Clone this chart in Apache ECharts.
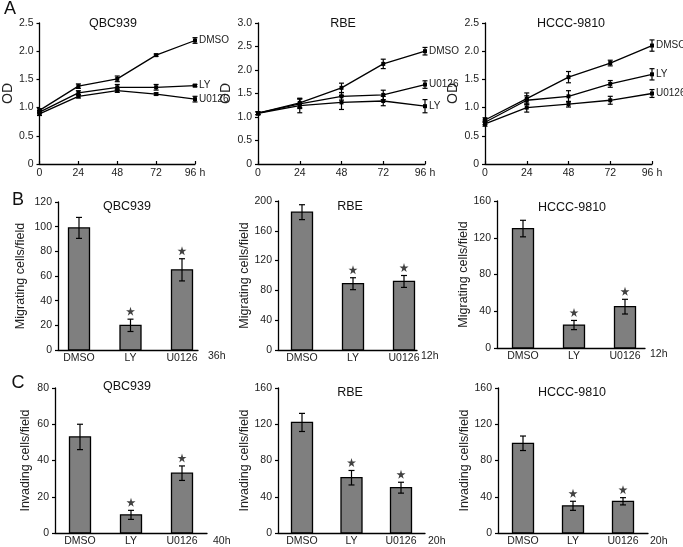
<!DOCTYPE html>
<html><head><meta charset="utf-8">
<script src="https://cdn.jsdelivr.net/npm/echarts@6/dist/echarts.min.js"></script>
<style>html,body{margin:0;padding:0;background:#fff}#c{width:683px;height:547px}</style>
</head><body><div id="c"></div>
<script>
// ---------- data ----------
const hours = [0, 24, 48, 72, 96];
const treatments = ['DMSO', 'LY', 'U0126'];

// Panel A: OD growth curves
const qbcDMSO = [0.95, 1.38, 1.51, 1.93, 2.19];
const qbcDMSOErr = [0.03, 0.04, 0.05, 0.02, 0.05];
const qbcLY = [0.92, 1.26, 1.36, 1.36, 1.39];
const qbcLYErr = [0.03, 0.04, 0.05, 0.05, 0.02];
const qbcU0126 = [0.89, 1.20, 1.30, 1.24, 1.15];
const qbcU0126Err = [0.03, 0.03, 0.03, 0.02, 0.05];

const rbeDMSO = [1.08, 1.30, 1.62, 2.13, 2.40];
const rbeDMSOErr = [0.03, 0.10, 0.10, 0.10, 0.08];
const rbeU0126 = [1.08, 1.28, 1.44, 1.47, 1.69];
const rbeU0126Err = [0.03, 0.10, 0.08, 0.10, 0.08];
const rbeLY = [1.08, 1.24, 1.31, 1.34, 1.23];
const rbeLYErr = [0.03, 0.15, 0.15, 0.10, 0.14];

const hcccDMSO = [0.78, 1.16, 1.54, 1.79, 2.10];
const hcccDMSOErr = [0.04, 0.10, 0.10, 0.05, 0.10];
const hcccLY = [0.74, 1.13, 1.20, 1.42, 1.59];
const hcccLYErr = [0.04, 0.08, 0.10, 0.06, 0.10];
const hcccU0126 = [0.71, 1.00, 1.06, 1.13, 1.25];
const hcccU0126Err = [0.04, 0.08, 0.05, 0.07, 0.07];

// Panel B: migrating cells/field
const migQBC = [99, 20, 65];   const migQBCErr = [8.5, 5, 9];
const migRBE = [185, 89, 92];  const migRBEErr = [10, 8, 8];
const migHCCC = [130, 25, 45]; const migHCCCErr = [9, 5, 8];
// Panel C: invading cells/field
const invQBC = [53, 10, 33];   const invQBCErr = [7, 2.5, 4];
const invRBE = [122, 61, 50];  const invRBEErr = [10, 8, 6];
const invHCCC = [99, 30, 35];  const invHCCCErr = [8, 5, 4];
const significant = [false, true, true];

const lineTickLabels = ['0', '24', '48', '72', '96 h'];

// ---------- chart ----------
const FONT = 'Liberation Sans, Arial, sans-serif';
const chart = echarts.init(document.getElementById('c'));
const grids = [], xAxes = [], yAxes = [], series = [], graphics = [];

function yAxisBase(min, max, interval, name, gap, fmt) {
  return {
    type: 'value', min, max, interval,
    name, nameLocation: 'middle', nameGap: gap,
    nameTextStyle: { fontFamily: FONT, color: '#222', fontSize: name === 'OD' ? 14 : 12.5 },
    axisLine: { show: true, lineStyle: { color: '#000', width: 1.3 } },
    axisTick: { show: true, inside: false, length: 3, lineStyle: { color: '#000', width: 1.2 } },
    axisLabel: { fontFamily: FONT, fontSize: 10.5, color: '#222', margin: 6, formatter: fmt },
    splitLine: { show: false }
  };
}

function errRender(cap) {
  return function (params, api) {
    const x = api.value(0), lo = api.value(1), hi = api.value(2);
    const a = api.coord([x, lo]), b = api.coord([x, hi]);
    const st = { stroke: '#000', lineWidth: 1.2 };
    return { type: 'group', children: [
      { type: 'line', shape: { x1: a[0], y1: a[1], x2: b[0], y2: b[1] }, style: st },
      { type: 'line', shape: { x1: a[0] - cap, y1: a[1], x2: a[0] + cap, y2: a[1] }, style: st },
      { type: 'line', shape: { x1: b[0] - cap, y1: b[1], x2: b[0] + cap, y2: b[1] }, style: st }
    ]};
  };
}

function linePanel(idx, cfg) {
  grids.push({ left: cfg.left, top: 23, width: cfg.width, height: 141 });
  xAxes.push({
    gridIndex: idx, type: 'value', min: 0, max: 96, interval: 24,
    axisLine: { show: true, onZero: false, lineStyle: { color: '#000', width: 1.3 } },
    axisTick: { show: true, inside: true, length: 3, lineStyle: { color: '#000', width: 1.2 } },
    axisLabel: { fontFamily: FONT, fontSize: 10.5, color: '#222', margin: 4,
      formatter: v => lineTickLabels[hours.indexOf(v)] },
    splitLine: { show: false }
  });
  yAxes.push(Object.assign(yAxisBase(0, cfg.ymax, 0.5, 'OD', cfg.nameGap,
    v => v === 0 ? '0' : v.toFixed(1)), { gridIndex: idx }));
  cfg.lines.forEach(([name, vals, errs]) => {
    series.push({
      type: 'custom', xAxisIndex: idx, yAxisIndex: idx, silent: true, z: 3,
      renderItem: errRender(2.5),
      data: hours.map((h, i) => [h, vals[i] - errs[i], vals[i] + errs[i]])
    });
    series.push({
      type: 'line', name, xAxisIndex: idx, yAxisIndex: idx, z: 4,
      data: hours.map((h, i) => [h, vals[i]]),
      symbol: 'rect', symbolSize: 4, showAllSymbol: true,
      lineStyle: { color: '#000', width: 1.3 }, itemStyle: { color: '#000' },
      endLabel: { show: true, formatter: name, fontFamily: FONT, fontSize: 10, color: '#222', distance: 4 },
      animation: false
    });
  });
  graphics.push({ type: 'text', x: cfg.titleX, y: 24, style: { text: cfg.title, font: '12.5px ' + FONT, fill: '#111', align: 'center', verticalAlign: 'middle' } });
}

const starPath = 'path://M50,0 L61,35 L98,35 L68,57 L79,91 L50,70 L21,91 L32,57 L2,35 L39,35 Z';

function barPanel(idx, cfg) {
  grids.push({ left: cfg.left, top: cfg.top, width: cfg.right - cfg.left, height: cfg.bottom - cfg.top });
  const sp = cfg.spacing;
  xAxes.push({
    gridIndex: idx, type: 'value',
    min: 1 - (cfg.c1 - cfg.left) / sp, max: 3 + (cfg.right - (cfg.c1 + 2 * sp)) / sp,
    axisLine: { show: true, onZero: false, lineStyle: { color: '#000', width: 1.3 } },
    axisTick: { show: false },
    axisLabel: { customValues: [1, 2, 3], fontFamily: FONT, fontSize: 10.5, color: '#222', margin: 3,
      formatter: v => treatments[Math.round(v) - 1] || '' },
    splitLine: { show: false }
  });
  yAxes.push(Object.assign(yAxisBase(0, cfg.ymax, cfg.interval, cfg.yname, cfg.nameGap), { gridIndex: idx }));
  const xs = treatments.map((t, i) => i + 1);
  series.push({
    type: 'custom', xAxisIndex: idx, yAxisIndex: idx, silent: true, z: 2,
    data: xs.map((x, i) => [x, cfg.vals[i]]),
    renderItem: function (params, api) {
      const x = api.value(0), v = api.value(1);
      const p0 = api.coord([x, 0]), p1 = api.coord([x, v]);
      return { type: 'rect', shape: { x: p0[0] - 10.5, y: p1[1], width: 21, height: p0[1] - p1[1] },
        style: { fill: '#7f7f7f', stroke: '#000', lineWidth: 1.3 } };
    }
  });
  series.push({
    type: 'custom', xAxisIndex: idx, yAxisIndex: idx, silent: true, z: 3,
    renderItem: errRender(3),
    data: xs.map((x, i) => [x, cfg.vals[i] - cfg.errs[i], cfg.vals[i] + cfg.errs[i]])
  });
  series.push({
    type: 'scatter', xAxisIndex: idx, yAxisIndex: idx, z: 4,
    symbol: starPath, symbolSize: 9, symbolOffset: [0, -8],
    itemStyle: { color: '#111' },
    data: xs.map((x, i) => [x, cfg.vals[i] + cfg.errs[i]]).filter((d, i) => significant[i])
  });
  graphics.push({ type: 'text', x: cfg.titleX, y: cfg.titleY, style: { text: cfg.title, font: '12.5px ' + FONT, fill: '#111', align: 'center', verticalAlign: 'middle' } });
  graphics.push({ type: 'text', x: cfg.timeX, y: cfg.bottom + 6, style: { text: cfg.time, font: '10.5px ' + FONT, fill: '#222', align: 'left', verticalAlign: 'middle' } });
}

linePanel(0, { left: 29, width: 166, ymax: 2.5, nameGap: 18, title: 'QBC939', titleX: 113,
  lines: [['DMSO', qbcDMSO, qbcDMSOErr], ['LY', qbcLY, qbcLYErr], ['U0126', qbcU0126, qbcU0126Err]] });
linePanel(1, { left: 258, width: 167, ymax: 3.0, nameGap: 23, title: 'RBE', titleX: 343,
  lines: [['DMSO', rbeDMSO, rbeDMSOErr], ['U0126', rbeU0126, rbeU0126Err], ['LY', rbeLY, rbeLYErr]] });
linePanel(2, { left: 485, width: 167, ymax: 2.5, nameGap: 24, title: 'HCCC-9810', titleX: 571,
  lines: [['DMSO', hcccDMSO, hcccDMSOErr], ['LY', hcccLY, hcccLYErr], ['U0126', hcccU0126, hcccU0126Err]] });

const MIG = 'Migrating cells/field', INV = 'Invading cells/field';
barPanel(3, { left: 58, right: 198, top: 202, bottom: 350, c1: 79, spacing: 51.5, ymax: 120, interval: 20,
  yname: MIG, nameGap: 31, vals: migQBC, errs: migQBCErr, title: 'QBC939', titleX: 127, titleY: 207, time: '36h', timeX: 208 });
barPanel(4, { left: 278, right: 417, top: 201, bottom: 350, c1: 302, spacing: 51, ymax: 200, interval: 40,
  yname: MIG, nameGap: 27, vals: migRBE, errs: migRBEErr, title: 'RBE', titleX: 350, titleY: 207, time: '12h', timeX: 421 });
barPanel(5, { left: 497, right: 645, top: 201, bottom: 348, c1: 523, spacing: 51, ymax: 160, interval: 40,
  yname: MIG, nameGap: 25, vals: migHCCC, errs: migHCCCErr, title: 'HCCC-9810', titleX: 572, titleY: 208, time: '12h', timeX: 650 });
barPanel(6, { left: 55, right: 207, top: 388, bottom: 535, c1: 80, spacing: 51, ymax: 80, interval: 20,
  yname: INV, nameGap: 23, vals: invQBC, errs: invQBCErr, title: 'QBC939', titleX: 127, titleY: 387, time: '40h', timeX: 213 });
barPanel(7, { left: 278, right: 425, top: 388, bottom: 535, c1: 302, spacing: 49.5, ymax: 160, interval: 40,
  yname: INV, nameGap: 26, vals: invRBE, errs: invRBEErr, title: 'RBE', titleX: 350, titleY: 393, time: '20h', timeX: 428 });
barPanel(8, { left: 498, right: 648, top: 388, bottom: 535, c1: 523, spacing: 50, ymax: 160, interval: 40,
  yname: INV, nameGap: 25, vals: invHCCC, errs: invHCCCErr, title: 'HCCC-9810', titleX: 572, titleY: 393, time: '20h', timeX: 650 });

[['A', 10, 9], ['B', 18, 200], ['C', 18, 383]].forEach(([t, x, y]) => {
  graphics.push({ type: 'text', x, y, style: { text: t, font: '18px ' + FONT, fill: '#111', align: 'center', verticalAlign: 'middle' } });
});

chart.setOption({
  animation: false,
  textStyle: { fontFamily: FONT },
  grid: grids, xAxis: xAxes, yAxis: yAxes, series, graphic: graphics
});
</script></body></html>
